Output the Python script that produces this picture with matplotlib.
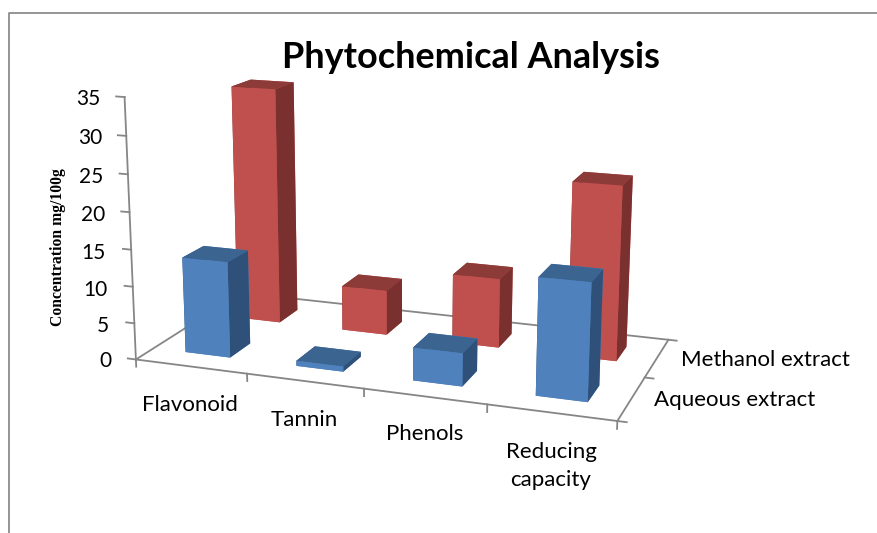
import numpy as np
import matplotlib
matplotlib.use("Agg")
import matplotlib.pyplot as plt
from matplotlib.lines import Line2D

categories = ['Flavonoid', 'Tannin', 'Phenols', 'Reducing\ncapacity']
series_names = ['Aqueous extract', 'Methanol extract']
aqueous = [13.1, 0.7, 4.4, 15.3]
methanol = [33.3, 6.3, 9.6, 23.7]
z_ticks = [0, 5, 10, 15, 20, 25, 30, 35]

W, H = 877, 533
BAR_W, BAR_D = 0.408, 0.387
GREY = '#868686'

# face order for bar3d: bottom, top, front, back, left, right
BLUE = ['#4F81BD', '#3B6491', '#4F81BD', '#4F81BD', '#2F5179', '#2F5179']
RED = ['#C0504D', '#8C3B39', '#C0504D', '#C0504D', '#7A302E', '#7A302E']

plt.rcParams['font.family'] = ['Lato', 'DejaVu Sans']

fig = plt.figure(figsize=(W / 100, H / 100), dpi=100)

# camera values were fitted against the floor corners of the reference
side = 590.56
ax = fig.add_axes([104.12 / W, 6.49 / H, side / W, side / H], projection='3d', computed_zorder=False)
ax.set_xlim(0, 4)
ax.set_ylim(0, 2)
ax.set_zlim(0, 35)
ax.view_init(elev=14.467, azim=-70.297, roll=-0.081)
ax.set_proj_type('persp', focal_length=0.50285)
ax.set_box_aspect((1, 0.49697, 0.543))
ax.set_axis_off()
ax.patch.set_alpha(0)


def Seg(x, y, z):
    ax.plot(x, y, z, color=GREY, lw=1.3, zorder=1, clip_on=False)


# floor and axes
Seg([0, 4], [0, 0], [0, 0])
Seg([0, 4], [2, 2], [0, 0])
Seg([0, 0], [0, 2], [0, 0])
Seg([4, 4], [0, 2], [0, 0])
Seg([0, 0], [0, 0], [0, 35])
for z in z_ticks:
    Seg([-0.075, 0], [0, 0], [z, z])
for x in range(5):
    Seg([x, x], [0, 0], [-1.0, 0])
for y in range(3):
    Seg([4, 4.07], [y, y], [0, 0])

# bars, back row first so the front row covers it
order = 10
for vals, cols, yc in ((methanol, RED, 1.5), (aqueous, BLUE, 0.5)):
    for i, v in enumerate(vals):
        ax.bar3d(i + 0.5 - BAR_W / 2, yc - BAR_D / 2, 0, BAR_W, BAR_D, v,
                 color=cols, shade=False, zorder=order, edgecolor='none')
        order += 1

# tick labels and titles
def Label(px, py, s, **kw):
    fig.text(px / W, 1 - py / H, s, **kw)


Label(471, 57, 'Phytochemical Analysis', fontsize=25.9, fontweight='bold', ha='center', va='center', color='black')
Label(58, 247, 'Concentration mg/100g', fontsize=11.3, fontweight='bold', family='Liberation Serif',
      rotation=90, ha='center', va='center', color='black')

z_right = [111, 109, 108, 106, 105, 103, 102, 100]
z_mid = [361, 326, 290, 253, 215, 177, 138, 99]
for t, px, py in zip(z_ticks, z_right, z_mid):
    Label(px, py, str(t), fontsize=15, ha='right', va='center', color='black')

cat_x = [190, 304, 425, 551]
cat_y = [405, 420, 434, 466]
for c, px, py in zip(categories, cat_x, cat_y):
    Label(px, py, c, fontsize=16, ha='center', va='center', color='black', linespacing=1.5)

Label(654, 400, series_names[0], fontsize=16, ha='left', va='center', color='black')
Label(681, 360, series_names[1], fontsize=16, ha='left', va='center', color='black')

# chart border
fig.add_artist(Line2D([8.5 / W, 8.5 / W, 1], [0, 1 - 13 / H, 1 - 13 / H], color='#8C8C8C', lw=1.3))

fig.savefig('out.png', dpi=100)
